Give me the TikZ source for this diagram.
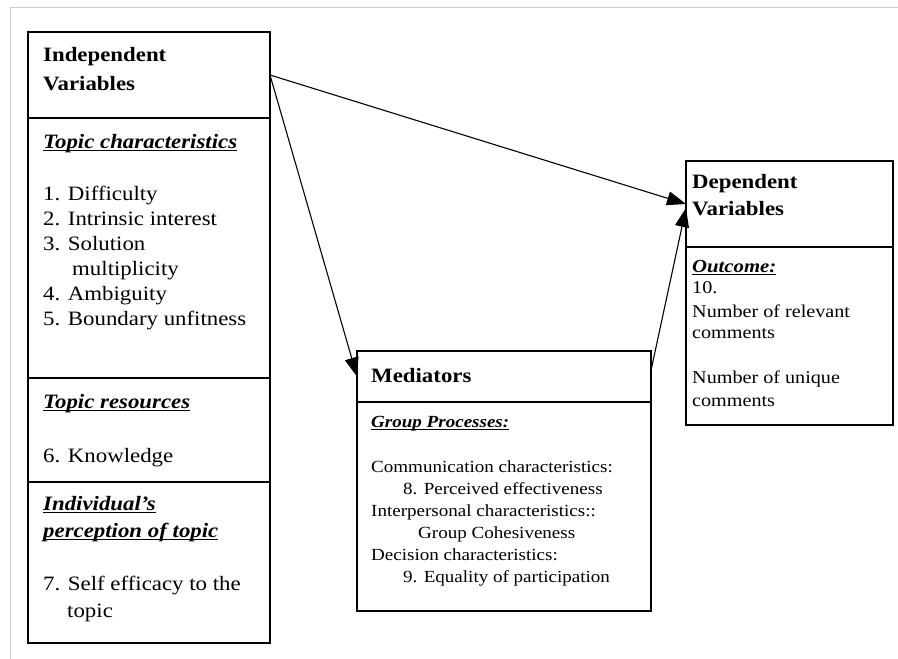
\documentclass[tikz,border=0pt]{standalone}
\usepackage{fontspec}
\setmainfont{Liberation Serif}[FakeStretch=1.12]
\usetikzlibrary{arrows.meta}

\tikzstyle{cell}=[draw,line width=1.4pt,inner sep=0pt,outer sep=0pt]
\tikzstyle{txt}=[anchor=base west,inner sep=0pt,font=\fontsize{20.4}{24}\selectfont]
\tikzstyle{head}=[anchor=base west,inner sep=0pt,font=\fontsize{20.4}{24}\selectfont\bfseries]
\tikzstyle{sml}=[anchor=base west,inner sep=0pt,font=\fontsize{17}{20}\selectfont]
\tikzstyle{flow}=[line width=1.1pt,-{Triangle[length=19pt,width=14pt]}]

\newsavebox{\hdrbox}
\newcommand{\hdr}[1]{\sbox{\hdrbox}{\textbf{\textit{#1}}}%
    \rlap{\rule[-3pt]{\wd\hdrbox}{1.4pt}}\usebox{\hdrbox}}

\begin{document}
\begin{tikzpicture}[x=1pt,y=-1pt]
    \useasboundingbox (0,0) rectangle (898,659);
    \draw[black!20,line width=1pt] (10,659) -- (10,7) -- (898,7);

    % independent variables
    \node[cell,minimum width=242pt,minimum height=86pt]  (indeptitle) at (149,75) {};
    \node[cell,minimum width=242pt,minimum height=260pt] (topicchar)  at (149,248) {};
    \node[cell,minimum width=242pt,minimum height=104pt] (topicres)   at (149,430) {};
    \node[cell,minimum width=242pt,minimum height=161pt] (percep)     at (149,562.5) {};

    \node[head] (iv1) at (43,61) {Independent};
    \node[head] (iv2) at (43,90) {Variables};
    \node[txt] (tc) at (43,148) {\hdr{Topic characteristics}};
    \foreach \y/\x/\t in {200/43/{1. Difficulty},225/43/{2. Intrinsic interest},
        250/43/{3. Solution},275/72/{multiplicity},300/43/{4. Ambiguity},
        325/43/{5. Boundary unfitness}}
    \node[txt] (tc\y) at (\x,\y) {\t};
    \node[txt] (tr) at (43,408) {\hdr{Topic resources}};
    \node[txt] (tr1) at (43,462) {6. Knowledge};
    \node[txt] (ip1) at (43,510) {\hdr{Individual’s}};
    \node[txt] (ip2) at (43,537) {\hdr{perception of topic}};
    \node[txt] (ip3) at (43,590) {7. Self efficacy to the};
    \node[txt] (ip4) at (67,617) {topic};

    % mediators
    \node[cell,minimum width=294pt,minimum height=51pt]  (medtitle) at (504,376.5) {};
    \node[cell,minimum width=294pt,minimum height=209pt] (medbody)  at (504,506.5) {};
    \node[head] (md) at (371,382) {Mediators};
    \node[sml] (gp) at (371,427) {\hdr{Group Processes:}};
    \foreach \y/\x/\t in {472/371/{Communication characteristics:},
        494/403/{8. Perceived effectiveness},516/371/{Interpersonal characteristics::},
        538/418/{Group Cohesiveness},560/371/{Decision characteristics:},
        582/403/{9. Equality of participation}}
    \node[sml] (gp\y) at (\x,\y) {\t};

    % dependent variables
    \node[cell,minimum width=207pt,minimum height=86pt]  (deptitle) at (789.5,204) {};
    \node[cell,minimum width=207pt,minimum height=178pt] (depbody)  at (789.5,336) {};
    \node[head] (dv1) at (692,188) {Dependent};
    \node[head] (dv2) at (692,215) {Variables};
    \node[sml,font=\fontsize{18.5}{20}\selectfont] (oc) at (692,272) {\hdr{Outcome:}};
    \foreach \y/\t in {293/{10.},317/{Number of relevant},338/{comments},
        383/{Number of unique},406/{comments}}
    \node[sml,font=\fontsize{18}{20}\selectfont] (oc\y) at (692,\y) {\t};

    \draw[flow] (indeptitle.east) -- (medtitle.west);
    \draw[flow] (indeptitle.east) -- (deptitle.west);
    \draw[flow] ([yshift=6pt]medtitle.east) -- ([yshift=-4pt]deptitle.west);
\end{tikzpicture}
\end{document}
